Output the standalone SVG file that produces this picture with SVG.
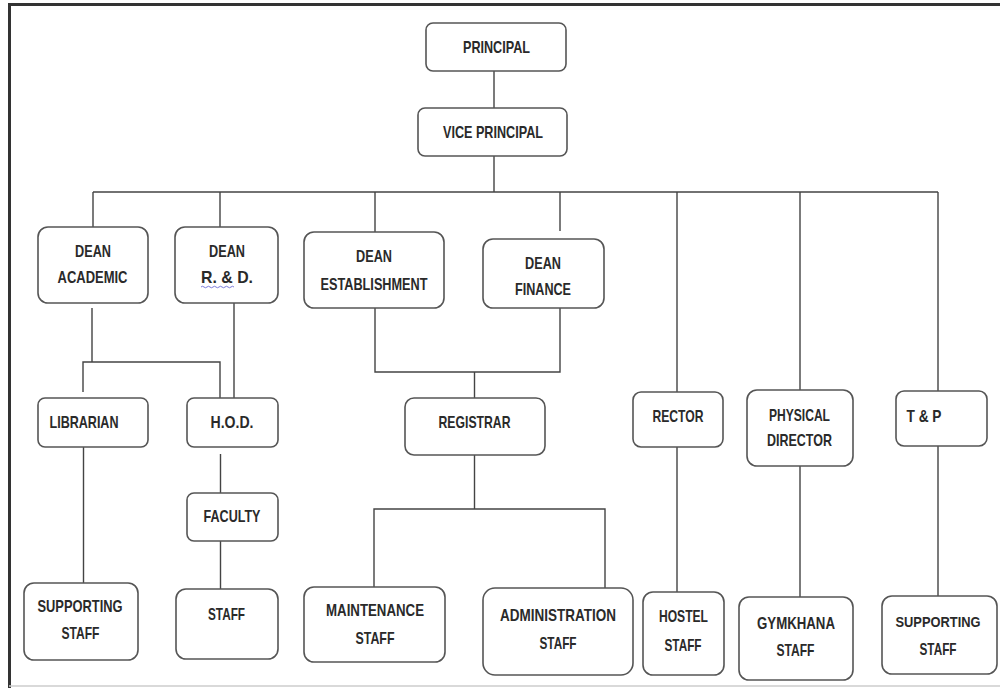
<svg xmlns="http://www.w3.org/2000/svg" width="1000" height="688" viewBox="0 0 1000 688">
<style>
.box{fill:#fff;stroke:#555;stroke-width:1.6}
.ln{fill:none;stroke:#444;stroke-width:1.4}
.t{font-family:"Liberation Sans",Arial,sans-serif;font-weight:bold;font-size:17px;fill:#2a2a2a;text-anchor:middle}
.s{font-size:15.5px}
</style>
<rect x="0" y="0" width="1000" height="688" fill="#fff"/>
<g id="frame">
<line x1="9" y1="4.5" x2="1000" y2="4.5" stroke="#333" stroke-width="3"/>
<line x1="9.5" y1="3" x2="9.5" y2="688" stroke="#333" stroke-width="3"/>
<line x1="9" y1="686" x2="1000" y2="686" stroke="#ccc" stroke-width="1.5"/>
</g>
<g id="connectors">
<path class="ln" d="M494,71V108M494,156V192M93,192H938M93,192V227M220,192V227M375,192V232M560,192V231M677,192V392M800,192V390M938,192V391"/>
<path class="ln" d="M92,308V362M83,392V362H220V398M234,303V398"/>
<path class="ln" d="M375,308V372H560V308M474.5,372V398"/>
<path class="ln" d="M474.5,455V509M374,587V509H605V588"/>
<path class="ln" d="M83.5,447V583M220.5,454V493M220.5,541V589"/>
<path class="ln" d="M677,447V592M800,466V597M938,446V596"/>
</g>
<g id="principal"><rect class="box" x="426" y="23" width="140" height="48" rx="7"/><text class="t" x="496.5" y="53" textLength="67" lengthAdjust="spacingAndGlyphs">PRINCIPAL</text></g>
<g id="vice-principal"><rect class="box" x="418" y="108" width="149" height="48" rx="7"/><text class="t" x="493" y="138" textLength="100" lengthAdjust="spacingAndGlyphs">VICE PRINCIPAL</text></g>
<g id="dean-academic"><rect class="box" x="38" y="227" width="110" height="76" rx="10"/><text class="t" x="93" y="257" textLength="36" lengthAdjust="spacingAndGlyphs">DEAN</text><text class="t" x="92.5" y="283" textLength="70" lengthAdjust="spacingAndGlyphs">ACADEMIC</text></g>
<g id="dean-rd"><rect class="box" x="175" y="227" width="103" height="76" rx="10"/><text class="t" x="227" y="257" textLength="36" lengthAdjust="spacingAndGlyphs">DEAN</text><text class="t" x="227" y="283" textLength="52" lengthAdjust="spacingAndGlyphs">R. &amp; D.</text><path d="M201,287 q1.5,-1.5 3,0 t3,0 t3,0 t3,0 t3,0 t3,0 t3,0 t3,0 t3,0 t3,0 t3,0" fill="none" stroke="#6b6bd6" stroke-width="0.9"/></g>
<g id="dean-establishment"><rect class="box" x="304" y="232" width="140" height="76" rx="10"/><text class="t" x="374" y="262" textLength="36" lengthAdjust="spacingAndGlyphs">DEAN</text><text class="t" x="374" y="290" textLength="107" lengthAdjust="spacingAndGlyphs">ESTABLISHMENT</text></g>
<g id="dean-finance"><rect class="box" x="483" y="239" width="121" height="69" rx="10"/><text class="t" x="543" y="269" textLength="36" lengthAdjust="spacingAndGlyphs">DEAN</text><text class="t" x="543" y="295" textLength="56" lengthAdjust="spacingAndGlyphs">FINANCE</text></g>
<g id="librarian"><rect class="box" x="38" y="398" width="110" height="49" rx="7"/><text class="t" x="84" y="428" textLength="69" lengthAdjust="spacingAndGlyphs">LIBRARIAN</text></g>
<g id="hod"><rect class="box" x="187" y="398" width="91" height="49" rx="7"/><text class="t" x="232" y="428" textLength="43" lengthAdjust="spacingAndGlyphs">H.O.D.</text></g>
<g id="registrar"><rect class="box" x="405" y="398" width="140" height="57" rx="9"/><text class="t" x="474.5" y="428" textLength="72" lengthAdjust="spacingAndGlyphs">REGISTRAR</text></g>
<g id="rector"><rect class="box" x="633" y="392" width="90" height="55" rx="8"/><text class="t" x="678" y="422" textLength="51" lengthAdjust="spacingAndGlyphs">RECTOR</text></g>
<g id="physical-director"><rect class="box" x="747" y="390" width="106" height="76" rx="10"/><text class="t" x="799.5" y="421" textLength="61" lengthAdjust="spacingAndGlyphs">PHYSICAL</text><text class="t" x="799.5" y="446" textLength="65" lengthAdjust="spacingAndGlyphs">DIRECTOR</text></g>
<g id="t-and-p"><rect class="box" x="896" y="391" width="91" height="55" rx="8"/><text class="t" x="924" y="422" textLength="35" lengthAdjust="spacingAndGlyphs">T &amp; P</text></g>
<g id="faculty"><rect class="box" x="187" y="493" width="91" height="48" rx="7"/><text class="t" x="232" y="522" textLength="57" lengthAdjust="spacingAndGlyphs">FACULTY</text></g>
<g id="supporting-staff-1"><rect class="box" x="24" y="583" width="114" height="77" rx="10"/><text class="t" x="80" y="612" textLength="85" lengthAdjust="spacingAndGlyphs">SUPPORTING</text><text class="t" x="80.5" y="639" textLength="38" lengthAdjust="spacingAndGlyphs">STAFF</text></g>
<g id="staff"><rect class="box" x="176" y="589" width="102" height="70" rx="10"/><text class="t" x="226.5" y="620" textLength="37" lengthAdjust="spacingAndGlyphs">STAFF</text></g>
<g id="maintenance-staff"><rect class="box" x="304" y="587" width="141" height="75" rx="10"/><text class="t" x="375" y="616" textLength="98" lengthAdjust="spacingAndGlyphs">MAINTENANCE</text><text class="t" x="375" y="644" textLength="39" lengthAdjust="spacingAndGlyphs">STAFF</text></g>
<g id="administration-staff"><rect class="box" x="483" y="588" width="150" height="87" rx="12"/><text class="t" x="558" y="621" textLength="116" lengthAdjust="spacingAndGlyphs">ADMINISTRATION</text><text class="t" x="558" y="649" textLength="37" lengthAdjust="spacingAndGlyphs">STAFF</text></g>
<g id="hostel-staff"><rect class="box" x="643" y="592" width="81" height="83" rx="10"/><text class="t" x="683.5" y="622" textLength="49" lengthAdjust="spacingAndGlyphs">HOSTEL</text><text class="t" x="683" y="651" textLength="37" lengthAdjust="spacingAndGlyphs">STAFF</text></g>
<g id="gymkhana-staff"><rect class="box" x="739" y="597" width="114" height="83" rx="10"/><text class="t" x="796" y="629" textLength="78" lengthAdjust="spacingAndGlyphs">GYMKHANA</text><text class="t" x="795.5" y="656" textLength="38" lengthAdjust="spacingAndGlyphs">STAFF</text></g>
<g id="supporting-staff-2"><rect class="box" x="882" y="596" width="115" height="78" rx="10"/><text class="t s" x="938" y="627" textLength="85" lengthAdjust="spacingAndGlyphs">SUPPORTING</text><text class="t" x="938" y="655" textLength="37" lengthAdjust="spacingAndGlyphs">STAFF</text></g>
</svg>
